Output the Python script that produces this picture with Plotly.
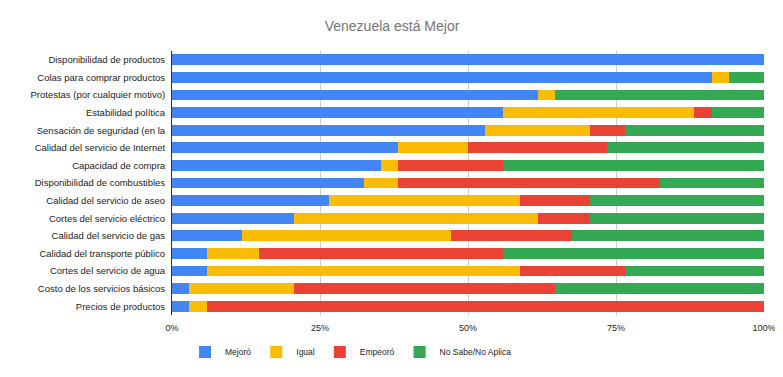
import plotly.graph_objects as go

categories = [
    "Disponibilidad de productos",
    "Colas para comprar productos",
    "Protestas (por cualquier motivo)",
    "Estabilidad política",
    "Sensación de seguridad (en la",
    "Calidad del servicio de Internet",
    "Capacidad de compra",
    "Disponibilidad de combustibles",
    "Calidad del servicio de aseo",
    "Cortes del servicio eléctrico",
    "Calidad del servicio de gas",
    "Calidad del transporte público",
    "Cortes del servicio de agua",
    "Costo de los servicios básicos",
    "Precios de productos",
]

mejoro =   [34, 31, 21, 19, 18, 13, 12, 11,  9,  7,  4,  2,  2,  1,  1]
igual =    [ 0,  1,  1, 11,  6,  4,  1,  2, 11, 14, 12,  3, 18,  6,  1]
empeoro =  [ 0,  0,  0,  1,  2,  8,  6, 15,  4,  3,  7, 14,  6, 15, 32]
no_sabe =  [ 0,  2, 12,  3,  8,  9, 15,  6, 10, 10, 11, 15,  8, 12,  0]

series = [
    ("Mejoró", mejoro, "#4285F4"),
    ("Igual", igual, "#FBBC04"),
    ("Empeoró", empeoro, "#EA4335"),
    ("No Sabe/No Aplica", no_sabe, "#34A853"),
]

tick_vals = [0, 25, 50, 75, 100]
tick_text = ["0%", "25%", "50%", "75%", "100%"]

fig = go.Figure()
for name, vals, color in series:
    fig.add_trace(go.Bar(
        y=categories, x=vals, name=name, orientation="h",
        marker=dict(color=color, line=dict(width=0)),
    ))

fig.update_layout(
    barmode="stack",
    barnorm="percent",
    bargap=0.38,
    width=775, height=369,
    margin=dict(l=164, r=19, t=43, b=62, autoexpand=False),
    paper_bgcolor="white", plot_bgcolor="white",
    font=dict(family="Arial, Liberation Sans, sans-serif", color="#222222"),
    title=dict(text="Venezuela está Mejor", x=0.4955, xanchor="center", y=0.951, yanchor="middle",
               yref="container", font=dict(size=14, color="#757575")),
    legend=dict(orientation="h", x=0.022, xanchor="left", y=-0.14, yanchor="middle",
                font=dict(size=8.5, color="#222222"), traceorder="normal"),
    showlegend=True,
)
fig.update_xaxes(range=[0, 100], tickvals=tick_vals, ticktext=tick_text, automargin=False,
                 showgrid=True, gridcolor="#cccccc", gridwidth=1, zeroline=False,
                 tickfont=dict(size=9, color="#222222"), ticks="", ticklabelstandoff=6,
                 fixedrange=True)
fig.update_yaxes(range=[14.5, -0.5], automargin=False, showline=True, linecolor="#333333", linewidth=1,
                 tickfont=dict(size=9.5, color="#222222"), ticks="", ticklabelstandoff=4)

fig.write_html("out.html")
